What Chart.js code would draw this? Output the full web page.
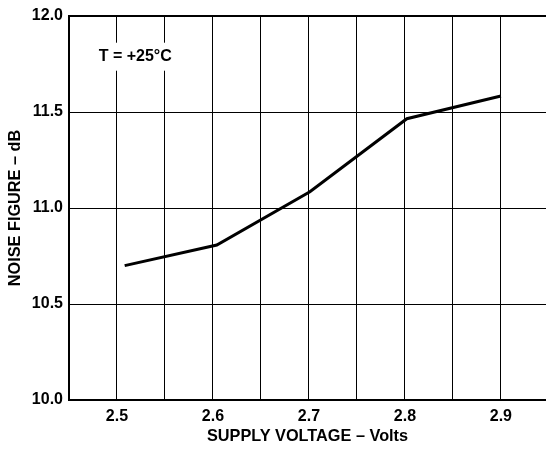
<!DOCTYPE html>
<html>
<head>
<meta charset="utf-8">
<script src="https://cdn.jsdelivr.net/npm/chart.js@4"></script>
<style>
html,body{margin:0;padding:0;background:#fff;}
#wrap{position:relative;width:546px;height:449px;}
</style>
</head>
<body>
<div id="wrap"><canvas id="c"></canvas></div>
<script>
const supplyVolts = [2.508, 2.604, 2.701, 2.802, 2.9];
const noiseFigureDb = [10.70, 10.807, 11.085, 11.465, 11.583];
const xTickValues = [2.45, 2.5, 2.55, 2.6, 2.65, 2.7, 2.75, 2.8, 2.85, 2.9];
const xTickLabels = ['', '2.5', '', '2.6', '', '2.7', '', '2.8', '', '2.9'];
const yTickValues = [10.0, 10.5, 11.0, 11.5, 12.0];
const yTickLabels = ['10.0', '10.5', '11.0', '11.5', '12.0'];
const xTitle = 'SUPPLY VOLTAGE – Volts';
const yTitle = 'NOISE FIGURE – dB';
const noteText = 'T = +25°C';
const noteAt = {x: 2.519, y: 11.788};

const FONT = '"Liberation Sans", Arial, sans-serif';

const notePlugin = {
  id: 'note',
  afterDatasetsDraw(chart) {
    const ctx = chart.ctx;
    const xs = chart.scales.x, ys = chart.scales.y;
    const cx = xs.getPixelForValue(noteAt.x), cy = ys.getPixelForValue(noteAt.y);
    ctx.save();
    ctx.font = 'bold 16px ' + FONT;
    const w = ctx.measureText(noteText).width;
    ctx.fillStyle = '#fff';
    ctx.fillRect(cx - w/2 - 4, cy - 14, w + 8, 28);
    ctx.fillStyle = '#000';
    ctx.textAlign = 'center';
    ctx.textBaseline = 'middle';
    ctx.fillText(noteText, cx, cy);
    ctx.restore();
  }
};

new Chart(document.getElementById('c'), {
  type: 'line',
  data: {
    datasets: [{
      data: supplyVolts.map((v, i) => ({x: v, y: noiseFigureDb[i]})),
      borderColor: '#000',
      borderWidth: 3,
      pointRadius: 0,
      tension: 0,
      fill: false
    }]
  },
  options: {
    responsive: true,
    maintainAspectRatio: false,
    animation: false,
    devicePixelRatio: 1,
    layout: {padding: {left: 0, top: 16, right: 0, bottom: 0}},
    plugins: {legend: {display: false}, tooltip: {enabled: false}},
    scales: {
      x: {
        type: 'linear',
        min: 2.45,
        max: 2.947,
        afterBuildTicks(s) { s.ticks = xTickValues.map(v => ({value: v})); },
        afterFit(s) { s.height = 49; },
        ticks: {
          autoSkip: false,
          maxRotation: 0,
          padding: 7,
          color: '#000',
          font: {family: FONT, size: 16, weight: 'bold'},
          callback: (v, i) => xTickLabels[i]
        },
        grid: {
          drawTicks: false,
          color: '#000',
          lineWidth: c => (c.index === 0 ? 0 : 1)
        },
        border: {display: true, color: '#000', width: 2},
        title: {
          display: true,
          text: xTitle,
          color: '#000',
          font: {family: FONT, size: 16.3, weight: 'bold'},
          padding: {top: 0, bottom: 3}
        }
      },
      y: {
        type: 'linear',
        min: 10,
        max: 12,
        afterBuildTicks(s) { s.ticks = yTickValues.map(v => ({value: v})); },
        afterFit(s) { s.width = 69; },
        ticks: {
          padding: 6,
          color: '#000',
          font: {family: FONT, size: 16, weight: 'bold'},
          callback: (v, i) => yTickLabels[i]
        },
        grid: {
          drawTicks: false,
          color: '#000',
          lineWidth: c => (c.index === yTickValues.length - 1 ? 2 : (c.index === 0 ? 0 : 1))
        },
        border: {display: true, color: '#000', width: 2},
        title: {
          display: true,
          text: yTitle,
          color: '#000',
          font: {family: FONT, size: 16.3, weight: 'bold'},
          padding: {top: 6, bottom: 0}
        }
      }
    }
  },
  plugins: [notePlugin]
});
</script>
</body>
</html>
